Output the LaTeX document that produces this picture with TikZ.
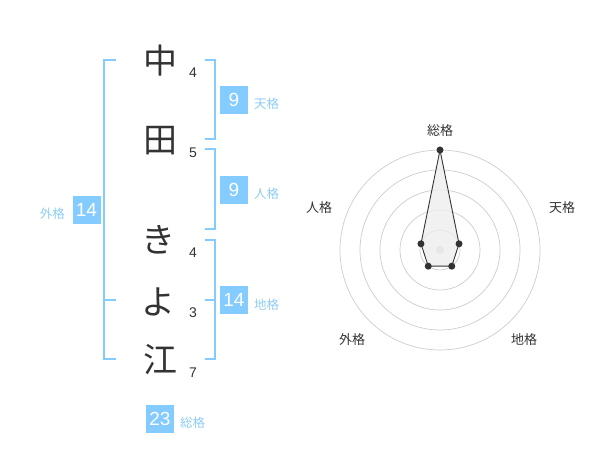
\documentclass[tikz,border=0pt]{standalone}
\usepackage{fontspec}
\usetikzlibrary{calc}
\setmainfont{Noto Sans CJK JP}
\newfontfamily\digitfont{Liberation Sans}
\definecolor{bl}{HTML}{84CCFF}
\definecolor{bltxt}{HTML}{8ECDF5}
\definecolor{ink}{HTML}{333333}
\definecolor{ringc}{HTML}{CCCCCC}
\begin{document}
\begin{tikzpicture}[x=1pt,y=-1pt,
 kanji/.style={font=\fontsize{34}{34}\selectfont, text=ink, inner sep=0pt},
 strk/.style={font=\digitfont\fontsize{14}{14}\selectfont, text=ink, inner sep=0pt},
 valbox/.style={fill=bl, text=white, minimum width=28pt, minimum height=28pt, inner sep=0pt, font=\digitfont\fontsize{19}{19}\selectfont},
 kaku/.style={text=bltxt, font=\fontsize{12.5}{12.5}\selectfont, inner sep=0pt},
 brk/.style={draw=bl, line width=2pt},
 ring/.style={draw=ringc, line width=0.7pt},
 rlab/.style={text=ink, font=\fontsize{13}{13}\selectfont, inner sep=0pt},
 dot/.style={circle, fill=ink, inner sep=0pt, minimum size=7pt}
]
\useasboundingbox (0,0) rectangle (600,470);
% name characters
\node[kanji] (c1) at (160,61) {中};
\node[kanji] (c2) at (160,141) {田};
\node[kanji] (c3) at (158,240) {き};
\node[kanji] (c4) at (158,302) {よ};
\node[kanji] (c5) at (160,360) {江};
% stroke counts
\node[strk] (n1) at (193,73) {4};
\node[strk] (n2) at (193,153) {5};
\node[strk] (n3) at (193,253) {4};
\node[strk] (n4) at (193,313) {3};
\node[strk] (n5) at (193,373) {7};
% brackets
\draw[brk] (205,60) -- (215,60) -- (215,139) -- (205,139);
\draw[brk] (205,149) -- (215,149) -- (215,229) -- (205,229);
\draw[brk] (205,240) -- (215,240) -- (215,359) -- (205,359);
\draw[brk] (205,300) -- (215,300);
\draw[brk] (116,60) -- (104,60) -- (104,359) -- (116,359);
\draw[brk] (104,300) -- (116,300);
% value boxes
\node[valbox] (b1) at (234,100) {9};
\node[kaku, anchor=west] (l1) at (254,104) {天格};
\node[valbox] (b2) at (234,190) {9};
\node[kaku, anchor=west] (l2) at (254,194) {人格};
\node[valbox] (b3) at (234,300) {14};
\node[kaku, anchor=west] (l3) at (254,305) {地格};
\node[valbox] (b4) at (86.5,210) {14};
\node[kaku, anchor=east] (l4) at (65,214) {外格};
\node[valbox] (b5) at (160,419) {23};
\node[kaku, anchor=west] (l5) at (180,423) {総格};
% radar chart
\coordinate (C) at (440,250);
\foreach \r in {20,40,60,80,100} \draw[ring] (C) circle[radius=\r];
\fill[ringc] (C) circle[radius=4];
\coordinate (pS) at ($(C)+(-90:100)$);
\coordinate (pT) at ($(C)+(-18:20)$);
\coordinate (pC) at ($(C)+(54:20)$);
\coordinate (pG) at ($(C)+(126:20)$);
\coordinate (pJ) at ($(C)+(198:20)$);
\filldraw[fill=black!7, fill opacity=0.8, draw=ink, line width=0.9pt] (pS) -- (pT) -- (pC) -- (pG) -- (pJ) -- cycle;
\foreach \p in {pS,pT,pC,pG,pJ} \node[dot] at (\p) {};
\node[rlab] (rS) at (440,131) {総格};
\node[rlab] (rT) at (562,208) {天格};
\node[rlab] (rC) at (524,340) {地格};
\node[rlab] (rG) at (352,340) {外格};
\node[rlab] (rJ) at (319,208) {人格};
\end{tikzpicture}
\end{document}
